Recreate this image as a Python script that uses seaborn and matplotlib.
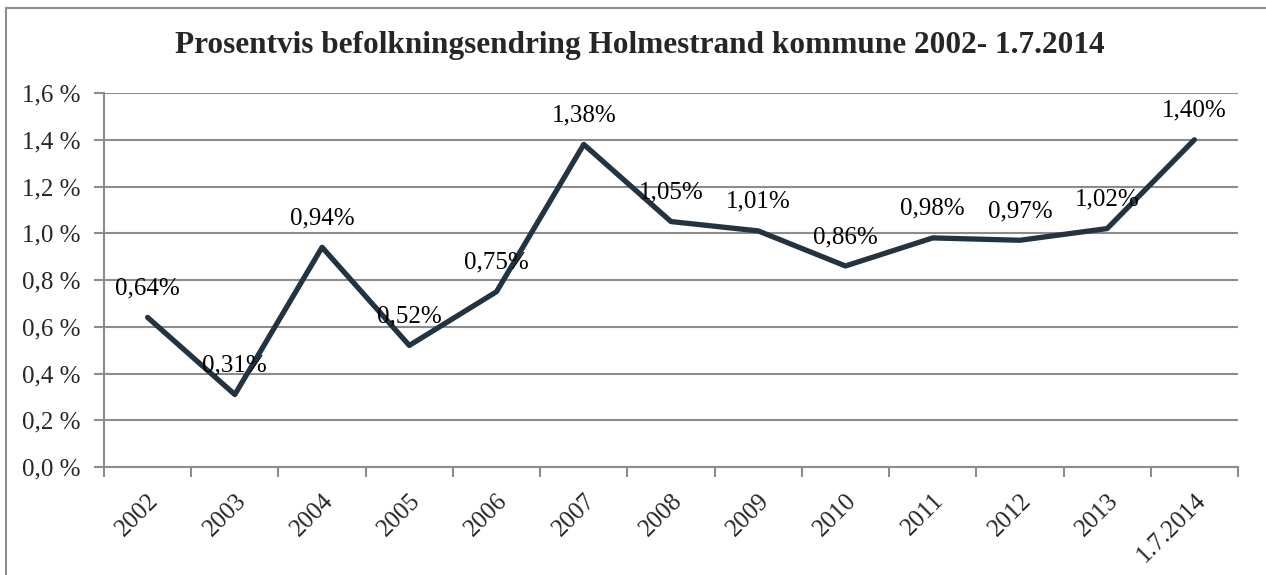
import pandas as pd
import matplotlib.pyplot as plt
import matplotlib.patches as mpatches
import seaborn as sns

# data
years = ['2002', '2003', '2004', '2005', '2006', '2007', '2008',
         '2009', '2010', '2011', '2012', '2013', '1.7.2014']
change_pct = [0.64, 0.31, 0.94, 0.52, 0.75, 1.38, 1.05,
              1.01, 0.86, 0.98, 0.97, 1.02, 1.40]
y_ticks = [0.0, 0.2, 0.4, 0.6, 0.8, 1.0, 1.2, 1.4, 1.6]

df = pd.DataFrame({'year': years, 'pct': change_pct})

sns.set_theme(style="white")
plt.rcParams['font.family'] = ['Liberation Serif', 'DejaVu Serif']

fig = plt.figure(figsize=(12.66, 5.75), dpi=100)
ax = fig.add_axes([104 / 1266, 1 - 467 / 575, 1134 / 1266, 374 / 575])

grid_col = '#8c8c8c'
line_col = '#243340'

sns.lineplot(data=df, x='year', y='pct', ax=ax, color=line_col,
             linewidth=3.8, sort=False)

# data labels above each point
for i, v in enumerate(change_pct):
    ax.annotate(f"{v:.2f}%".replace('.', ','), (i, v),
                xytext=(0, 29), textcoords='offset pixels',
                ha='center', va='center', fontsize=18, color='black')

ax.set_xlim(-0.5, len(years) - 0.5)
ax.set_ylim(0, 1.6)
ax.set_yticks(y_ticks)
ax.set_yticklabels([f"{t:.1f} %".replace('.', ',') for t in y_ticks], fontsize=18)
ax.yaxis.grid(True, color=grid_col, linewidth=1.5)
ax.set_axisbelow(True)

ax.set_xticks(range(len(years)))
ax.set_xticklabels(years, rotation=45, ha='right', rotation_mode='anchor', fontsize=18)
ax.set_xticks([i - 0.5 for i in range(len(years) + 1)], minor=True)
ax.tick_params(axis='x', which='major', length=0, pad=16)
ax.tick_params(axis='x', which='minor', length=7, color=grid_col, width=1.5, bottom=True)
ax.tick_params(axis='y', length=7, color=grid_col, width=1.5, left=True, pad=10)

for side in ['top', 'right']:
    ax.spines[side].set_visible(False)
for side in ['left', 'bottom']:
    ax.spines[side].set_color(grid_col)
    ax.spines[side].set_linewidth(1.5)

ax.set_xlabel('')
ax.set_ylabel('')

fig.text(0.505, 1 - 45 / 575, 'Prosentvis befolkningsendring Holmestrand kommune 2002- 1.7.2014',
         ha='center', va='center', fontsize=22.5, fontweight='bold')

# outer chart border (only left and top visible in the crop)
fig.patches.append(mpatches.Rectangle((6 / 1266, -0.1), 1.2, 1 - 8 / 575 + 0.1,
                                      transform=fig.transFigure, fill=False,
                                      edgecolor='#8c8c8c', linewidth=1.5))

fig.savefig('out.png', dpi=100)
